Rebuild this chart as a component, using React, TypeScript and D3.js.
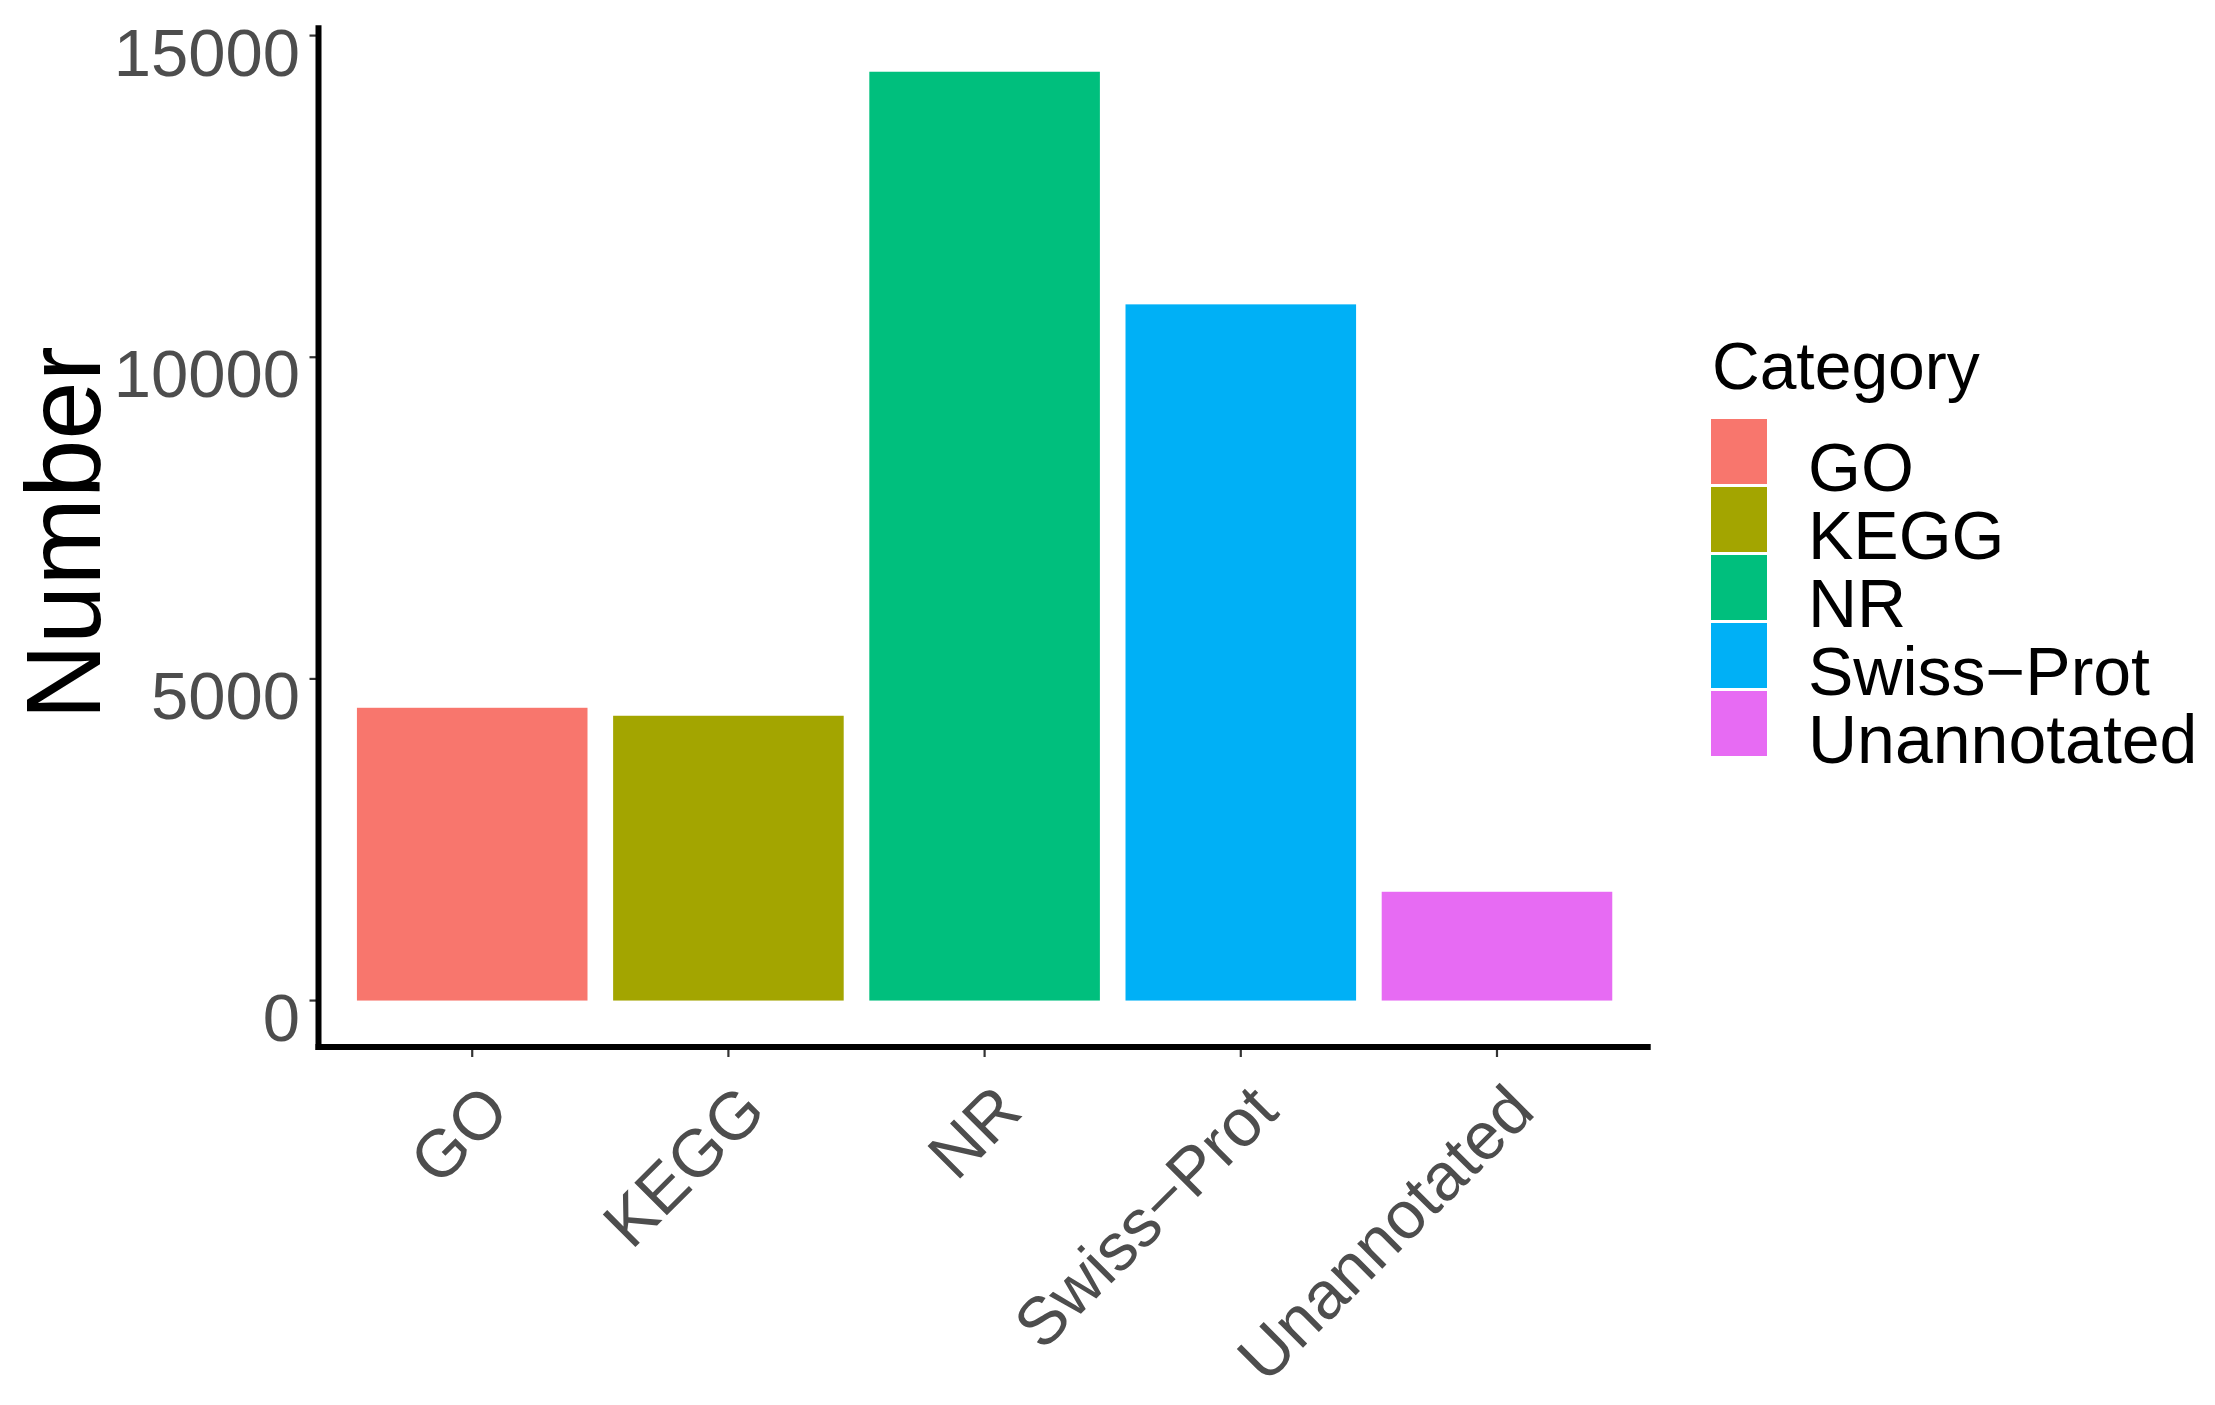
import React from "react";
import * as d3 from "d3";

const categories = ["GO", "KEGG", "NR", "Swiss-Prot", "Unannotated"];
const values = [4551, 4427, 14438, 10822, 1691];
const colors = ["#F8766D", "#A3A500", "#00BF7D", "#00B0F6", "#E76BF3"];
const yTicks = [0, 5000, 10000, 15000];
const yTitle = "Number";
const legendTitle = "Category";

const W = 2215;
const H = 1405;
const panel = { left: 318.5, right: 1650.7, top: 25.3, bottom: 1047 };
const FONT = "'Liberation Sans', Arial, Helvetica, sans-serif";

// ggplot renders ASCII hyphens as a typographic minus sign
const display = (s: string) => s.replace(/-/g, "\u2212");

export default function App() {
  const maxV = d3.max(values) as number;
  const x = d3
    .scaleBand<string>()
    .domain(categories)
    .range([panel.left, panel.right])
    .paddingInner(0.1)
    .paddingOuter(0.15);
  const y = d3
    .scaleLinear()
    .domain([-0.05 * maxV, 1.05 * maxV])
    .range([panel.bottom, panel.top]);
  const color = d3.scaleOrdinal<string, string>().domain(categories).range(colors);

  const keyX = 1711;
  const keyTop = 419;
  const keyPitch = 68;
  const keyW = 56;
  const keyH = 65;

  return (
    <svg
      width={W}
      height={H}
      style={{ position: "absolute", left: 0, top: 0, display: "block", background: "#fff" }}
      fontFamily={FONT}
    >
      <rect x={0} y={0} width={W} height={H} fill="#fff" />
      {/* bars */}
      {categories.map((c, i) => (
        <rect
          key={c}
          x={x(c)}
          width={x.bandwidth()}
          y={y(values[i])}
          height={y(0) - y(values[i])}
          fill={color(c)}
        />
      ))}
      {/* y ticks and labels */}
      {yTicks.map((t) => (
        <g key={t}>
          <line x1={panel.left - 9} x2={panel.left} y1={y(t)} y2={y(t)} stroke="#333" strokeWidth={2.2} />
          <text x={300} y={y(t) + 40} textAnchor="end" fontSize={67} fill="#4D4D4D">
            {t}
          </text>
        </g>
      ))}
      {/* x ticks and labels */}
      {categories.map((c) => {
        const cx = (x(c) as number) + x.bandwidth() / 2;
        return (
          <g key={c}>
            <line x1={cx} x2={cx} y1={panel.bottom} y2={panel.bottom + 10} stroke="#333" strokeWidth={2.2} />
            <text
              transform={`translate(${cx + 40},${1114}) rotate(-45)`}
              textAnchor="end"
              fontSize={67}
              fill="#4D4D4D"
            >
              {display(c)}
            </text>
          </g>
        );
      })}
      {/* axis lines */}
      <line x1={panel.left} x2={panel.left} y1={panel.top} y2={panel.bottom + 3} stroke="#000" strokeWidth={6} />
      <line x1={panel.left - 3} x2={panel.right} y1={panel.bottom} y2={panel.bottom} stroke="#000" strokeWidth={6} />
      {/* y title */}
      <text transform={`translate(100,533) rotate(-90)`} textAnchor="middle" fontSize={105} fill="#000">
        {yTitle}
      </text>
      {/* legend */}
      <text x={1712} y={389} fontSize={66} fill="#000">
        {legendTitle}
      </text>
      {categories.map((c, i) => (
        <g key={c}>
          <rect x={keyX} y={keyTop + i * keyPitch} width={keyW} height={keyH} fill={color(c)} />
          <text x={1808} y={keyTop + i * keyPitch + keyH / 2 + 39} fontSize={68} fill="#000">
            {display(c)}
          </text>
        </g>
      ))}
    </svg>
  );
}
